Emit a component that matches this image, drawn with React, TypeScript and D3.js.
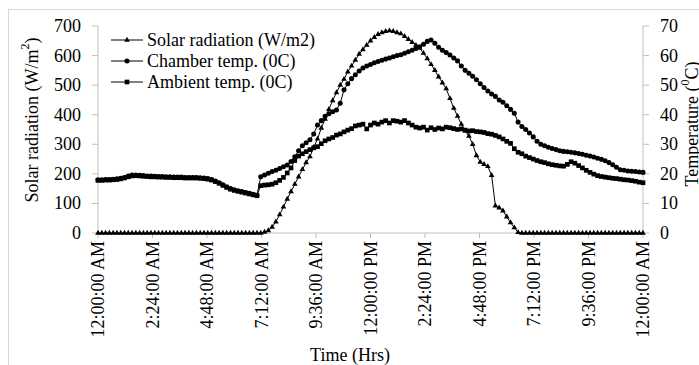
import React from 'react';
import * as d3 from 'd3';

// time step: one reading every 10 minutes, 0:00 to 24:00 (145 readings)
const STEP_MIN = 10;

const xTickHours = [0, 2.4, 4.8, 7.2, 9.6, 12, 14.4, 16.8, 19.2, 21.6, 24];
const xTickLabels = [
  '12:00:00 AM', '2:24:00 AM', '4:48:00 AM', '7:12:00 AM', '9:36:00 AM',
  '12:00:00 PM', '2:24:00 PM', '4:48:00 PM', '7:12:00 PM', '9:36:00 PM', '12:00:00 AM',
];
const leftTicks = [0, 100, 200, 300, 400, 500, 600, 700];
const rightTicks = [0, 10, 20, 30, 40, 50, 60, 70];

// Solar radiation (W/m2)
const solar = [
  0, 0, 0, 0, 0, 0, 0, 0, 0, 0,
  0, 0, 0, 0, 0, 0, 0, 0, 0, 0,
  0, 0, 0, 0, 0, 0, 0, 0, 0, 0,
  0, 0, 0, 0, 0, 0, 0, 0, 0, 0,
  0, 0, 0, 0,
  3, 8, 20, 38, 62, 88, 115, 140, 165, 190,
  215, 238, 258, 290, 318, 355, 385, 418, 448, 475,
  500, 520, 545, 565, 585, 605, 620, 635, 650, 662,
  672, 678, 682, 684, 682, 678, 674, 665, 655, 645,
  635, 625, 608, 590, 570, 550, 528, 508, 488, 455,
  422, 395, 368, 345, 328, 300, 262, 240, 232, 225,
  195, 92, 85, 75, 55, 35, 18, 2,
  0, 0, 0, 0, 0, 0, 0, 0, 0, 0,
  0, 0, 0, 0, 0, 0, 0, 0, 0, 0,
  0, 0, 0, 0, 0, 0, 0, 0, 0, 0,
  0, 0, 0,
];

// Chamber temperature (C)
const chamber = [
  18.0, 18.0, 18.1, 18.1, 18.2, 18.3, 18.5, 18.8, 19.3, 19.6,
  19.6, 19.5, 19.4, 19.3, 19.3, 19.2, 19.1, 19.1, 19.0, 19.0,
  18.9, 18.9, 18.9, 18.8, 18.8, 18.8, 18.8, 18.7, 18.6, 18.4,
  18.1, 17.6, 17.0, 16.3, 15.6, 15.0, 14.6, 14.3, 14.0, 13.7,
  13.4, 13.1, 12.8,
  19.0, 19.6, 20.2, 20.8, 21.2, 21.8, 22.4, 23.0, 24.2, 25.8,
  27.8, 29.5, 30.5, 31.5, 33.5, 36.5, 38.0, 39.5, 40.3, 41.0,
  41.6, 43.9, 48.4, 50.5, 52.2, 53.5, 54.8, 55.8, 56.5, 57.0,
  57.6, 58.0, 58.4, 58.8, 59.2, 59.6, 60.0, 60.3, 60.8, 61.3,
  61.8, 62.4, 63.0, 63.8, 64.8, 65.3, 64.2, 62.8, 61.8, 61.0,
  60.2, 59.2, 58.2, 56.5, 55.0, 54.0, 53.0, 51.8, 50.5, 49.2,
  48.0, 47.0, 46.2, 45.0, 44.2, 43.0, 41.8, 40.5, 37.5, 36.0,
  35.0, 33.8, 32.5, 31.0, 30.0, 29.5, 29.0, 28.6, 28.2, 27.8,
  27.6, 27.5, 27.3, 27.1, 26.9, 26.6, 26.3, 26.0, 25.7, 25.3,
  24.9, 24.4, 23.8, 23.1, 22.2, 21.4, 21.2, 21.0, 20.9, 20.8,
  20.6, 20.5,
];

// Ambient temperature (C)
const ambient = [
  17.8, 17.8, 17.9, 17.9, 18.0, 18.1, 18.3, 18.6, 19.0, 19.3,
  19.4, 19.3, 19.2, 19.1, 19.0, 19.0, 18.9, 18.9, 18.8, 18.8,
  18.7, 18.7, 18.7, 18.6, 18.6, 18.6, 18.6, 18.5, 18.4, 18.2,
  17.9, 17.4, 16.8, 16.1, 15.4, 14.8, 14.4, 14.1, 13.8, 13.5,
  13.2, 12.9, 12.6,
  16.0, 16.2, 16.3, 16.5, 17.0, 17.8, 18.8, 20.3, 22.0, 24.5,
  26.0, 26.8, 27.5, 28.2, 28.8, 29.2, 30.2, 31.2, 31.8, 32.3,
  33.1, 33.5, 34.2, 34.8, 35.3, 36.2, 36.5, 36.8, 35.2, 36.5,
  37.2, 36.8, 37.5, 38.0, 37.2, 38.0, 37.8, 37.5, 38.0, 37.2,
  36.5, 35.8, 35.5, 35.8, 34.8, 35.6, 35.0, 35.5, 35.2, 35.8,
  35.6, 35.3, 35.0, 35.2, 34.8, 34.5, 34.6, 34.3, 34.2, 34.0,
  33.6, 33.4, 33.0, 32.5, 31.8, 31.0, 30.3, 28.5, 27.3, 26.8,
  26.0, 25.5, 25.0, 24.5, 24.1, 23.8, 23.4, 23.1, 22.9, 22.7,
  22.6, 23.2, 24.1, 23.6, 22.8, 22.0, 21.2, 20.5, 19.9, 19.4,
  19.1, 18.9, 18.7, 18.5, 18.4, 18.2, 18.0, 17.9, 17.7, 17.5,
  17.2, 17.0,
];

const FONT = '"Liberation Serif", "Times New Roman", serif';
const AXIS_GRAY = '#bfbfbf';

export default function App() {
  const W = 699;
  const H = 365;
  const x = d3.scaleLinear().domain([0, 24]).range([98, 643]);
  const yL = d3.scaleLinear().domain([0, 700]).range([233, 26]);
  const yR = d3.scaleLinear().domain([0, 70]).range([233, 26]);
  const hourOf = (i: number) => (i * STEP_MIN) / 60;

  const lineL = d3.line<number>().x((_, i) => x(hourOf(i))).y((d) => yL(d));
  const lineR = d3.line<number>().x((_, i) => x(hourOf(i))).y((d) => yR(d));

  const tri = d3.symbol().type(d3.symbolTriangle).size(14)()!;
  const circ = d3.symbol().type(d3.symbolCircle).size(20)()!;
  const sq = d3.symbol().type(d3.symbolSquare).size(22)()!;

  const series = [
    { name: 'Solar radiation (W/m2)', data: solar, path: lineL(solar)!, y: yL, sym: tri },
    { name: 'Chamber temp. (0C)', data: chamber, path: lineR(chamber)!, y: yR, sym: circ },
    { name: 'Ambient temp. (0C)', data: ambient, path: lineR(ambient)!, y: yR, sym: sq },
  ];

  const legendY = [40, 61, 82];

  return (
    <svg
      width={W}
      height={H}
      style={{ position: 'absolute', left: 0, top: 0, background: '#fff' }}
      fontFamily={FONT}
    >
      <rect x={8.5} y={9.5} width={720} height={400} fill="none" stroke="#d9d9d9" />

      {/* axes */}
      <line x1={98} x2={98} y1={yL(700)} y2={yL(0)} stroke={AXIS_GRAY} />
      <line x1={643} x2={643} y1={yR(70)} y2={yR(0)} stroke={AXIS_GRAY} />
      <line x1={98} x2={643} y1={233} y2={233} stroke={AXIS_GRAY} />
      {leftTicks.map((t) => (
        <g key={'l' + t}>
          <line x1={92} x2={98} y1={yL(t)} y2={yL(t)} stroke={AXIS_GRAY} />
          <text x={81} y={yL(t)} textAnchor="end" dominantBaseline="central" fontSize={18}>
            {t}
          </text>
        </g>
      ))}
      {rightTicks.map((t) => (
        <g key={'r' + t}>
          <line x1={643} x2={649} y1={yR(t)} y2={yR(t)} stroke={AXIS_GRAY} />
          <text x={660} y={yR(t)} textAnchor="start" dominantBaseline="central" fontSize={18}>
            {t}
          </text>
        </g>
      ))}
      {xTickHours.map((h, k) => (
        <g key={'x' + k}>
          <line x1={x(h)} x2={x(h)} y1={233} y2={238} stroke={AXIS_GRAY} />
          <text
            transform={`translate(${x(h)},241) rotate(-90)`}
            textAnchor="end"
            dominantBaseline="central"
            fontSize={18}
          >
            {xTickLabels[k]}
          </text>
        </g>
      ))}

      {/* axis titles */}
      <text transform="translate(32,120) rotate(-90)" textAnchor="middle" dominantBaseline="central" fontSize={18}>
        Solar radiation (W/m<tspan baselineShift="super" fontSize={12}>2</tspan>)
      </text>
      <text transform="translate(692,124) rotate(-90)" textAnchor="middle" dominantBaseline="central" fontSize={18}>
        Temperature (<tspan baselineShift="super" fontSize={12}>0</tspan>C)
      </text>
      <text x={350} y={355} textAnchor="middle" dominantBaseline="central" fontSize={18}>
        Time (Hrs)
      </text>

      {/* series */}
      {series.map((s, si) => (
        <g key={'s' + si}>
          <path d={s.path} fill="none" stroke="#000" strokeWidth={1} />
          {s.data.map((v, i) => (
            <path key={i} d={s.sym} transform={`translate(${x(hourOf(i))},${s.y(v)})`} fill="#000" />
          ))}
        </g>
      ))}

      {/* legend */}
      {series.map((s, si) => (
        <g key={'lg' + si}>
          <line x1={111} x2={143} y1={legendY[si]} y2={legendY[si]} stroke="#000" strokeWidth={1} />
          <path d={s.sym} transform={`translate(127,${legendY[si]})`} fill="#000" />
          <text x={147} y={legendY[si]} dominantBaseline="central" fontSize={18}>
            {s.name}
          </text>
        </g>
      ))}
    </svg>
  );
}
